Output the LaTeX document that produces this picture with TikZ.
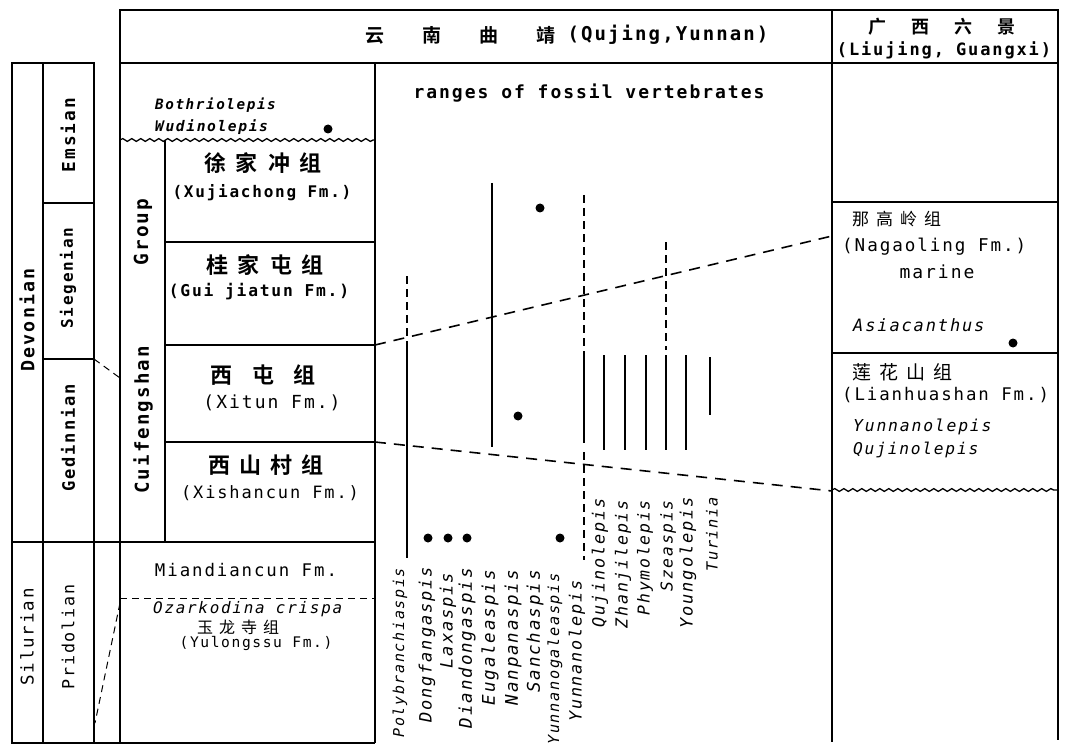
\documentclass[tikz,border=0pt]{standalone}
\usepackage{fontspec}
\usepackage{tikz}
\usetikzlibrary{decorations.pathmorphing}
\setmainfont{DejaVu Sans Mono}
\newfontfamily\tw{DejaVu Sans Mono}[LetterSpace=11]
\newfontfamily\cjk{Noto Sans CJK SC}[BoldFont={Noto Sans CJK SC Bold}]
\newcommand\fs[1]{\fontsize{#1}{#1}\selectfont}

\begin{document}
\begin{tikzpicture}[x=1pt,y=-1pt,
  frame/.style={line width=1.6pt},
  wavy/.style={line width=1.3pt,decorate,decoration={snake,segment length=9pt,amplitude=1.4pt}},
  corr/.style={line width=1.6pt,dash pattern=on 11pt off 8pt},
  thindash/.style={line width=1pt,dash pattern=on 7pt off 5pt},
  rangeline/.style={line width=2.2pt},
  rangedashed/.style={line width=2.2pt,dash pattern=on 8pt off 5pt},
  txt/.style={inner sep=0pt,font=\tw},
  btxt/.style={inner sep=0pt,font=\tw\bfseries},
  itxt/.style={inner sep=0pt,font=\tw\itshape},
  zh/.style={inner sep=0pt,font=\cjk},
  taxon/.style={rotate=90,anchor=east,inner sep=0pt,font=\tw\itshape}]
\useasboundingbox (0,0) rectangle (1065,754);
\fill[white] (0,0) rectangle (1065,754);
% frame
\draw[frame] (120,10) rectangle (1058,63);
\draw[frame] (832,10) -- (832,742);
\draw[frame] (1058,63) -- (1058,740);
\draw[frame] (12,63) rectangle (94,743);
\draw[frame] (43,63) -- (43,743);
\draw[frame] (43,203) -- (94,203);
\draw[frame] (43,359) -- (94,359);
\draw[frame] (120,63) -- (120,743);
\draw[frame] (375,63) -- (375,743);
\draw[frame] (12,542) -- (375,542);
\draw[frame] (94,743) -- (375,743);
\draw[frame] (165,140) -- (165,542);
\draw[frame] (165,242) -- (375,242);
\draw[frame] (165,345) -- (375,345);
\draw[frame] (165,442) -- (375,442);
\draw[wavy] (120,140) -- (375,140);
\draw[thindash] (120,598) -- (375,598);
\draw[frame] (832,202) -- (1058,202);
\draw[frame] (832,353) -- (1058,353);
\draw[wavy] (832,490) -- (1058,490);
\draw[thindash] (94,359) -- (120,378);
\draw[thindash] (120,603) -- (95,723);
% correlation
\draw[corr] (375,345) -- (832,236);
\draw[corr] (375,442) -- (832,491);
% ranges
\draw[rangedashed] (407,276) -- (407,342);
\draw[rangeline] (407,342) -- (407,558);
\draw[rangeline] (492,183) -- (492,447);
\draw[rangedashed] (584,195) -- (584,355);
\draw[rangeline] (584,355) -- (584,443);
\draw[rangedashed] (584,452) -- (584,560);
\draw[rangedashed] (666,242) -- (666,350);
\foreach \x in {604,625,646,666,686} \draw[rangeline] (\x,355) -- (\x,450);
\draw[rangeline] (710,357) -- (710,415);
\foreach \x/\y in {328/129,540/208,518/416,428/538,448/538,467/538,560/538,1013/343}
  \fill (\x,\y) circle (4.5);
% headings
\node[zh] (yunnan) at (460,35) {\bfseries\fs{19}云\hspace{38pt}南\hspace{38pt}曲\hspace{38pt}靖};
\node[btxt] (qujing) at (668,35) {\fs{19}(Qujing,Yunnan)};
\node[zh] (guangxi) at (942,27) {\bfseries\fs{18}广\hspace{25pt}西\hspace{25pt}六\hspace{25pt}景};
\node[btxt] (liujing) at (944,50) {\fs{17}(Liujing, Guangxi)};
\node[btxt] (ranges) at (589,93) {\fs{18}ranges of fossil vertebrates};
% stages
\node[btxt,rotate=90] (devonian) at (27,320) {\fs{18.3}Devonian};
\node[txt,rotate=90] (silurian) at (27,637) {\fs{17.5}Silurian};
\node[btxt,rotate=90] (emsian) at (68,135) {\fs{17.8}Emsian};
\node[btxt,rotate=90] (siegenian) at (68,278) {\fs{16}Siegenian};
\node[btxt,rotate=90] (gedinnian) at (68,438) {\fs{17.1}Gedinnian};
\node[txt,rotate=90] (pridolian) at (68,637) {\fs{16.7}Pridolian};
\node[btxt,rotate=90] (group) at (143,232) {\fs{19.4}Group};
\node[btxt,rotate=90] (cuifengshan) at (143,420) {\fs{19.1}Cuifengshan};
% formations
\node[btxt,font=\tw\bfseries\itshape,anchor=west] (bothriolepis) at (155,105) {\fs{14.3}Bothriolepis};
\node[btxt,font=\tw\bfseries\itshape,anchor=west] (wudinolepis) at (155,127) {\fs{14.6}Wudinolepis};
\node[zh] (xujiachongzh) at (263,163) {\bfseries\fs{22}徐\hspace{10pt}家\hspace{10pt}冲\hspace{10pt}组};
\node[btxt] (xujiachong) at (262,193) {\fs{16}(Xujiachong Fm.)};
\node[zh] (guijiatunzh) at (265,265) {\bfseries\fs{22}桂\hspace{10pt}家\hspace{10pt}屯\hspace{10pt}组};
\node[btxt] (guijiatun) at (259,292) {\fs{16.3}(Gui jiatun Fm.)};
\node[zh] (xitunzh) at (263,375) {\bfseries\fs{22}西\hspace{20pt}屯\hspace{20pt}组};
\node[txt] (xitun) at (272,403) {\fs{18}(Xitun Fm.)};
\node[zh] (xishancunzh) at (266,465) {\bfseries\fs{22}西\hspace{9pt}山\hspace{9pt}村\hspace{9pt}组};
\node[txt] (xishancun) at (270,493) {\fs{17}(Xishancun Fm.)};
\node[txt] (miandiancun) at (246,570) {\fs{17.4}Miandiancun Fm.};
\node[itxt,anchor=west] (ozarkodina) at (153,609) {\fs{15.9}Ozarkodina crispa};
\node[zh] (yulongssuzh) at (238,627) {\fs{16}玉\hspace{6pt}龙\hspace{6pt}寺\hspace{6pt}组};
\node[txt] (yulongssu) at (256,643) {\fs{14.6}(Yulongssu Fm.)};
% Liujing
\node[zh,anchor=west] (nagaolingzh) at (852,219) {\fs{17}那\hspace{7pt}高\hspace{7pt}岭\hspace{7pt}组};
\node[txt,anchor=west] (nagaoling) at (842,247) {\fs{17.6}(Nagaoling Fm.)};
\node[txt] (marine) at (937,272) {\fs{18}marine};
\node[itxt,anchor=west] (asiacanthus) at (853,325) {\fs{17}Asiacanthus};
\node[zh,anchor=west] (lianhuashanzh) at (852,372) {\fs{19}莲\hspace{8pt}花\hspace{8pt}山\hspace{8pt}组};
\node[txt,anchor=west] (lianhuashan) at (842,395) {\fs{17.4}(Lianhuashan Fm.)};
\node[itxt,anchor=west] (yunnanolepisr) at (853,427) {\fs{16.4}Yunnanolepis};
\node[itxt,anchor=west] (qujinolepisr) at (853,450) {\fs{16.2}Qujinolepis};
% taxa
\foreach \x/\y/\z/\s in {400/568/15/Polybranchiaspis,427/567/17/Dongfangaspis,448/573/17/Laxaspis,
  467/568/17.5/Diandongaspis,490/570/17.5/Eugaleaspis,513/570/17.5/Nanpanaspis,535/570/17.5/Sanchaspis,
  555/573/15.2/Yunnanogaleaspis,577/580/16.8/Yunnanolepis,600/498/16.8/Qujinolepis,623/500/16.6/Zhanjilepis,
  645/500/16.4/Phymolepis,668/500/16.3/Szeaspis,688/497/17/Youngolepis,712/497/15.3/Turinia}
  \node[taxon] (\s) at (\x,\y) {\fs{\z}\s};
\end{tikzpicture}
\end{document}
